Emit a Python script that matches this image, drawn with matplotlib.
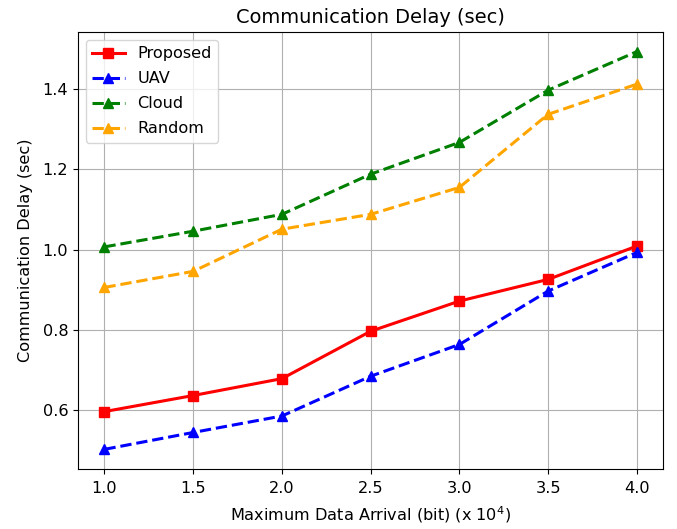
import matplotlib
matplotlib.use("Agg")
import matplotlib.pyplot as plt

arrival = [1.0, 1.5, 2.0, 2.5, 3.0, 3.5, 4.0]
proposed = [0.597, 0.637, 0.679, 0.797, 0.872, 0.926, 1.009]
uav = [0.503, 0.545, 0.586, 0.685, 0.764, 0.897, 0.993]
cloud = [1.007, 1.046, 1.088, 1.188, 1.267, 1.397, 1.493]
random_off = [0.906, 0.946, 1.051, 1.088, 1.155, 1.337, 1.412]

plt.rcParams["font.size"] = 11.6

fig = plt.figure(figsize=(6.77, 5.29), dpi=100)
ax = fig.add_axes([0.115, 0.113, 0.865, 0.827])

ax.plot(arrival, proposed, color="red", linestyle="-", marker="s", linewidth=2.2, markersize=7, label="Proposed")
ax.plot(arrival, uav, color="blue", linestyle="--", marker="^", linewidth=2.2, markersize=7, label="UAV")
ax.plot(arrival, cloud, color="green", linestyle="--", marker="^", linewidth=2.2, markersize=7, label="Cloud")
ax.plot(arrival, random_off, color="orange", linestyle="--", marker="^", linewidth=2.2, markersize=7, label="Random")

ax.set_title("Communication Delay (sec)")
ax.set_xlabel("Maximum Data Arrival (bit) (x $10^4$)", labelpad=6)
ax.set_ylabel("Communication Delay (sec)", labelpad=7)
ax.tick_params(axis="x", pad=5)
ax.grid(True)
ax.legend(loc="upper left", labelspacing=0.62)

fig.savefig("out.png", dpi=100)
